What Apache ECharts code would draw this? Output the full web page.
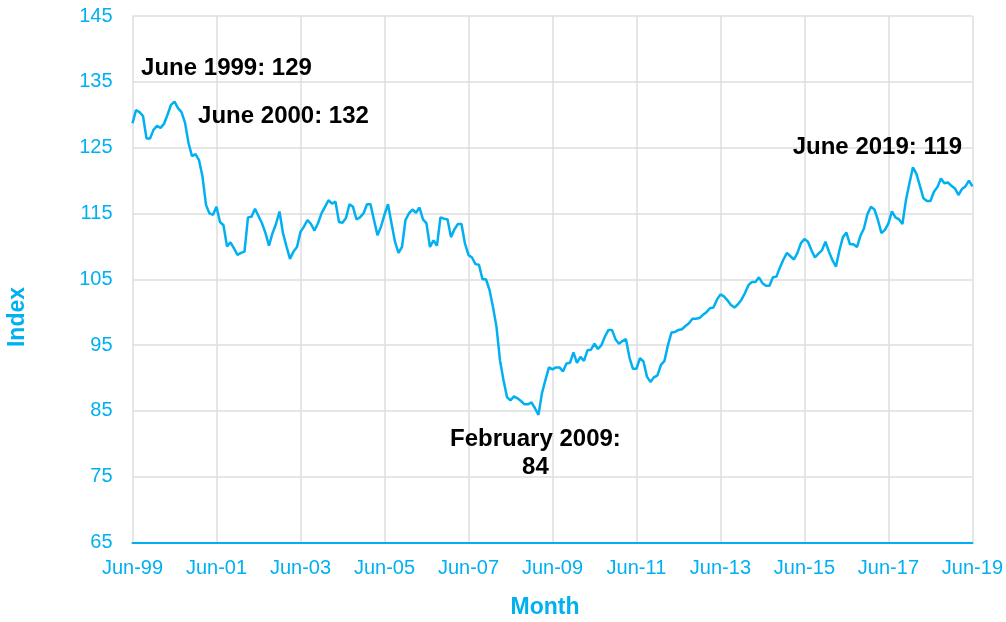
<!DOCTYPE html>
<html>
<head>
<meta charset="utf-8">
<script src="https://cdn.jsdelivr.net/npm/echarts@6/dist/echarts.min.js"></script>
<style>
  html, body { margin: 0; padding: 0; background: #fff; }
  #chart { width: 1006px; height: 622px; }
</style>
</head>
<body>
<div id="chart"></div>
<script>
/* monthly index, Jun-1999 .. Jun-2019 */
var monthNames = ['Jan', 'Feb', 'Mar', 'Apr', 'May', 'Jun', 'Jul', 'Aug', 'Sep', 'Oct', 'Nov', 'Dec'];
var startYear = 1999, startMonth = 5, monthCount = 241;

var indexValues = [
  128.7, 130.7, 130.4, 129.8, 126.4, 126.4, 127.7, 128.3, 128.0, 128.6,
  130.0, 131.5, 132.0, 131.0, 130.4, 128.8, 125.7, 123.7, 124.0, 123.1,
  120.6, 116.3, 115.0, 114.8, 116.0, 113.7, 113.2, 110.0, 110.6, 109.7,
  108.7, 109.0, 109.2, 114.4, 114.5, 115.7, 114.6, 113.5, 112.0, 110.1,
  112.0, 113.4, 115.3, 112.0, 110.0, 108.1, 109.2, 109.9, 112.2, 113.0,
  114.0, 113.4, 112.4, 113.5, 115.0, 116.0, 117.0, 116.5, 116.8, 113.7,
  113.6, 114.3, 116.4, 116.0, 114.1, 114.4, 115.0, 116.4, 116.4, 114.0,
  111.7, 113.0, 114.8, 116.4, 113.5, 110.7, 109.0, 109.9, 114.0, 115.0,
  115.6, 115.1, 115.9, 114.1, 113.5, 109.9, 110.9, 110.1, 114.4, 114.2,
  114.1, 111.4, 112.6, 113.4, 113.4, 110.4, 108.7, 108.3, 107.3, 107.2,
  105.0, 105.0, 103.4, 100.8, 97.8, 92.7, 89.7, 87.1, 86.6, 87.2,
  86.9, 86.5, 86.0, 86.0, 86.3, 85.4, 84.4, 87.7, 89.7, 91.6,
  91.3, 91.6, 91.6, 91.0, 92.2, 92.3, 93.9, 92.3, 93.2, 92.6,
  94.2, 94.3, 95.2, 94.4, 95.0, 96.3, 97.3, 97.3, 95.9, 95.2,
  95.6, 95.9, 93.1, 91.4, 91.4, 93.0, 92.5, 90.2, 89.4, 90.1,
  90.4, 92.0, 92.6, 95.0, 96.9, 97.0, 97.3, 97.4, 97.9, 98.3,
  99.0, 99.0, 99.1, 99.6, 100.0, 100.6, 100.7, 101.9, 102.7, 102.4,
  101.8, 101.1, 100.7, 101.2, 101.9, 102.9, 104.1, 104.6, 104.6, 105.3,
  104.4, 104.0, 104.0, 105.3, 105.4, 106.8, 108.0, 109.0, 108.5, 108.0,
  109.0, 110.5, 111.1, 110.7, 109.4, 108.3, 108.9, 109.4, 110.7, 109.2,
  107.9, 106.9, 109.4, 111.4, 112.1, 110.3, 110.3, 109.9, 111.6, 112.7,
  114.9, 116.0, 115.6, 114.0, 112.0, 112.5, 113.5, 115.3, 114.4, 114.1,
  113.4, 117.0, 119.6, 122.0, 121.0, 119.2, 117.3, 116.9, 116.9, 118.3,
  119.0, 120.3, 119.6, 119.7, 119.2, 118.8, 117.8, 118.7, 119.1, 120.0,
  119.1
];

var yTicks = [65, 75, 85, 95, 105, 115, 125, 135, 145];

// annotations: [month label, value, text, offset]
var notes = [
  ['Jun-99', 128.7, 'June 1999: 129', [94, -55]],
  ['Jun-00', 132.0, 'June 2000: 132', [109, 15]],
  ['Feb-09', 84.4, 'February 2009:\n84', [-3, 39]],
  ['Jun-19', 119.1, 'June 2019: 119', [-95, -39]]
];

var months = [];
for (var i = 0; i < monthCount; i++) {
  var m = startMonth + i;
  var yr = startYear + Math.floor(m / 12);
  months.push(monthNames[m % 12] + '-' + String(yr).slice(2));
}

var blue = '#00b0f0';
var font = '"Liberation Sans", Arial, sans-serif';

var chart = echarts.init(document.getElementById('chart'), null, { renderer: 'canvas' });

var option = {
  animation: false,
  backgroundColor: '#fff',
  grid: {
    left: 132.5,
    right: 33.5,
    top: 16,
    bottom: 79.5
  },
  xAxis: {
    type: 'category',
    data: months,
    boundaryGap: false,
    axisLine: { show: true, lineStyle: { color: blue, width: 2 } },
    axisTick: { show: false },
    axisLabel: {
      interval: 23,
      color: blue,
      fontSize: 20,
      fontFamily: font,
      margin: 16
    },
    splitLine: {
      show: true,
      interval: 23,
      lineStyle: { color: '#dedede', width: 1.5 }
    }
  },
  yAxis: {
    type: 'value',
    min: yTicks[0],
    max: yTicks[yTicks.length - 1],
    interval: 10,
    axisLine: { show: false },
    axisTick: { show: false },
    axisLabel: {
      color: blue,
      fontSize: 20,
      fontFamily: font,
      margin: 20
    },
    splitLine: { lineStyle: { color: '#dedede', width: 1.5 } }
  },
  series: [{
    type: 'line',
    data: indexValues,
    showSymbol: false,
    symbol: 'none',
    lineStyle: { color: blue, width: 2.5 },
    itemStyle: { color: blue },
    z: 3,
    markPoint: {
      symbol: 'circle',
      symbolSize: 1,
      itemStyle: { color: 'rgba(0,0,0,0)' },
      label: {
        show: true,
        color: '#000',
        fontWeight: 'bold',
        fontSize: 24,
        fontFamily: font,
        lineHeight: 28,
        align: 'center'
      },
      data: notes.map(function (n) {
        return {
          coord: [n[0], n[1]],
          label: { position: 'inside', offset: n[3], formatter: n[2] }
        };
      })
    }
  }],
  graphic: [
    {
      type: 'text',
      x: 545,
      y: 608,
      style: {
        text: 'Month',
        fill: blue,
        font: 'bold 23px ' + font,
        textAlign: 'center',
        textVerticalAlign: 'middle'
      }
    },
    {
      type: 'text',
      x: 18,
      y: 317,
      rotation: Math.PI / 2,
      style: {
        text: 'Index',
        fill: blue,
        font: 'bold 23px ' + font,
        textAlign: 'center',
        textVerticalAlign: 'middle'
      }
    }
  ]
};

chart.setOption(option);
window.addEventListener('resize', function () {
  chart.resize();
});
</script>
</body>
</html>
